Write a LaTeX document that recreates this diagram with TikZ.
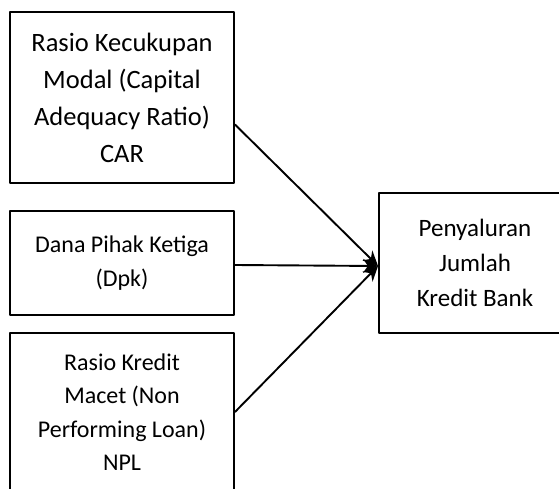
\documentclass[tikz,border=0pt]{standalone}
\usepackage{fontspec}
\setmainfont{Carlito}
\usetikzlibrary{arrows.meta}
\begin{document}
\begin{tikzpicture}[x=1pt,y=1pt,>={Stealth[length=15pt,width=14pt]}, line join=round]
	\tikzset{box/.style={draw,line width=1.9pt,align=center,inner sep=0pt},
		link/.style={->,line width=1.9pt}}
	\useasboundingbox (0,0) rectangle (559,488);
	\clip (0,0) rectangle (559,488);
	\node[box,minimum width=224,minimum height=171,font=\fontsize{26.5}{37}\selectfont] (car) at (122,390.5)
	{Rasio Kecukupan\\Modal (Capital\\Adequacy Ratio)\\CAR};
	\node[box,minimum width=224,minimum height=104,font=\fontsize{24}{33.5}\selectfont] (dpk) at (122,225)
	{Dana Pihak Ketiga\\(Dpk)};
	\node[box,minimum width=224,minimum height=158,font=\fontsize{24}{33.5}\selectfont] (npl) at (122,76)
	{Rasio Kredit\\Macet (Non\\Performing Loan)\\NPL};
	\node[box,minimum width=192,minimum height=140,font=\fontsize{25}{35}\selectfont] (bank) at (475,225)
	{Penyaluran\\Jumlah\\Kredit Bank};
	\coordinate (tip) at ([yshift=-3]bank.west);
	\draw[link] ([yshift=-27]car.east) -- (tip);
	\draw[link] ([yshift=-2]dpk.east) -- (tip);
	\draw[link] (npl.east) -- (tip);
\end{tikzpicture}
\end{document}
